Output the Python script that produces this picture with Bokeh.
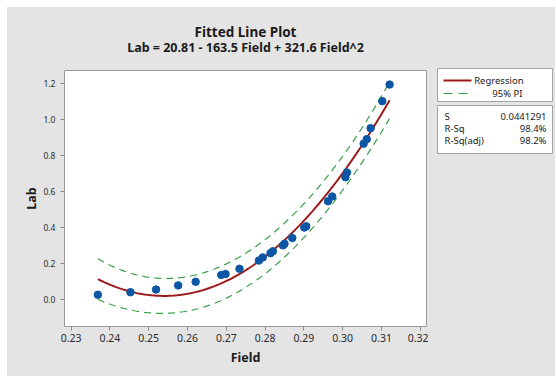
import numpy as np
from bokeh.plotting import figure
from bokeh.layouts import row, column
from bokeh.embed import file_html
from bokeh.resources import INLINE

# ---- data ----
field = [0.2369, 0.2453, 0.2519, 0.2576, 0.2621, 0.2687, 0.2698, 0.2734, 0.2784,
         0.2794, 0.2814, 0.2820, 0.2846, 0.2850, 0.2870, 0.2901, 0.2906, 0.2962,
         0.2973, 0.3007, 0.3011, 0.3054, 0.3062, 0.3072, 0.3102, 0.3121]
lab = [0.026, 0.040, 0.055, 0.078, 0.098, 0.136, 0.141, 0.170, 0.216,
       0.233, 0.257, 0.267, 0.300, 0.309, 0.341, 0.399, 0.406, 0.545,
       0.571, 0.678, 0.704, 0.864, 0.889, 0.950, 1.100, 1.192]
legend_labels = ["Regression", "95% PI"]
stat_names = ["S", "R-Sq", "R-Sq(adj)"]
stat_values = ["0.0441291", "98.4%", "98.2%"]
s_value = 0.0441291
t_crit = 2.0687  # t(0.975, df=23)
x_ticks = [0.23, 0.24, 0.25, 0.26, 0.27, 0.28, 0.29, 0.30, 0.31, 0.32]
y_ticks = [0.0, 0.2, 0.4, 0.6, 0.8, 1.0, 1.2]
title_text = "Fitted Line Plot"
subtitle_text = "Lab = 20.81 - 163.5 Field + 321.6 Field^2"

# ---- quadratic fit and 95% prediction interval ----
xa = np.array(field)
ya = np.array(lab)
coef = np.polyfit(xa, ya, 2)
X = np.column_stack([np.ones_like(xa), xa, xa ** 2])
xtx_inv = np.linalg.inv(X.T @ X)
xg = np.linspace(xa.min(), xa.max(), 200)
Xg = np.column_stack([np.ones_like(xg), xg, xg ** 2])
yg = np.polyval(coef, xg)
h = np.einsum("ij,jk,ik->i", Xg, xtx_inv, Xg)
half = t_crit * s_value * np.sqrt(1 + h)
lo = yg - half
hi = yg + half

# ---- styling / layout ----
BG = "#e4e4e4"
FONT = "Noto Sans"
TXT = "#1a1a1a"
FIT_COLOR = "#9c1a1c"
PI_COLOR = "#35a045"
PT_COLOR = "#0b57a6"
BOX_LINE = "#a3a3a3"
H = 369
TOP = 63
W_MAIN, W_SIDE = 421, 127
ML = 57
X0, X1 = 0.2283, 0.3216
Y0, Y1 = -0.15, 1.27

# title strip (pixel coordinates, centred over the plot frame)
head = figure(width=W_MAIN, height=TOP, x_range=(0, W_MAIN), y_range=(TOP, 0),
              output_backend="svg", toolbar_location=None,
              x_axis_location=None, y_axis_location=None,
              min_border=0, border_fill_color=BG, background_fill_color=BG,
              outline_line_color=None)
head.frame_align = False
head.grid.visible = False
frame_mid = ML + (W_MAIN - ML - 2) / 2
head.text(x=[frame_mid], y=[24], text=[title_text], text_align="center",
          text_baseline="middle", text_font_size="13.5px", text_font_style="bold",
          text_color=TXT, text_font={"value": FONT})
head.text(x=[frame_mid], y=[40], text=[subtitle_text], text_align="center",
          text_baseline="middle", text_font_size="12.5px", text_font_style="bold",
          text_color=TXT, text_font={"value": FONT})

p = figure(width=W_MAIN, height=H - TOP, x_range=(X0, X1), y_range=(Y0, Y1),
           output_backend="svg", toolbar_location=None, title=None,
           min_border_left=ML, min_border_right=2,
           min_border_top=0, min_border_bottom=50,
           border_fill_color=BG, background_fill_color="white")
p.frame_align = False
p.outline_line_color = "#9a9a9a"
p.outline_line_width = 1
p.grid.visible = False

for ax in (p.xaxis[0], p.yaxis[0]):
    ax.axis_line_color = None
    ax.major_tick_line_color = "#8a8a8a"
    ax.major_tick_out = 4
    ax.major_tick_in = 0
    ax.minor_tick_line_color = None
    ax.major_label_text_font = FONT
    ax.major_label_text_color = "#2a2a2a"
    ax.axis_label_text_font = FONT
    ax.axis_label_text_font_size = "12.5px"
    ax.axis_label_text_font_style = "bold"
    ax.axis_label_text_color = TXT

p.xaxis.major_label_text_font_size = "10.5px"
p.yaxis.major_label_text_font_size = "8.5px"
p.xaxis.ticker = x_ticks
p.yaxis.ticker = y_ticks
p.xaxis.major_label_overrides = {v: f"{v:.2f}" for v in x_ticks}
p.yaxis.major_label_overrides = {v: f"{v:.1f}" for v in y_ticks}
p.xaxis.axis_label = "Field"
p.yaxis.axis_label = "Lab"
p.xaxis.major_label_standoff = 3
p.yaxis.major_label_standoff = 5
p.xaxis.axis_label_standoff = 4
p.yaxis.axis_label_standoff = 0

p.line(xg, hi, line_color=PI_COLOR, line_width=1.2, line_dash="7 5")
p.line(xg, lo, line_color=PI_COLOR, line_width=1.2, line_dash="7 5")
p.line(xg, yg, line_color=FIT_COLOR, line_width=2)
p.scatter(field, lab, size=7.5, fill_color=PT_COLOR, line_color=PT_COLOR)

# ---- side panel: legend and summary statistics (pixel coordinates) ----
side = figure(width=W_SIDE, height=H, x_range=(0, W_SIDE), y_range=(H, 0),
              output_backend="svg", toolbar_location=None,
              x_axis_location=None, y_axis_location=None,
              min_border=0, border_fill_color=BG, background_fill_color=BG,
              outline_line_color=None)
side.frame_align = False
side.grid.visible = False

side.quad(left=[9, 9], right=[124, 124], top=[61, 98], bottom=[94, 146],
          fill_color="white", line_color=BOX_LINE, line_width=1)
side.line([15, 43], [73, 73], line_color=FIT_COLOR, line_width=2)
side.line([15, 43], [86, 86], line_color=PI_COLOR, line_width=1.2, line_dash="9 6")
side.text(x=[95, 94], y=[73, 86], text=legend_labels, text_align="right",
          text_baseline="middle", text_font_size="9.5px", text_color=TXT,
          text_font={"value": FONT})
side.text(x=[16] * 3, y=[109, 121, 133], text=stat_names, text_align="left",
          text_baseline="middle", text_font_size="9.5px", text_color=TXT,
          text_font={"value": FONT})
side.text(x=[118] * 3, y=[109, 121, 133], text=stat_values, text_align="right",
          text_baseline="middle", text_font_size="9.5px", text_color=TXT,
          text_font={"value": FONT})

left_col = column(head, p, spacing=0, styles={"background-color": BG})
layout = row(left_col, side, margin=(7, 0, 0, 7), spacing=0,
             styles={"background-color": BG})
open("out.html", "w").write(file_html(layout, INLINE))
